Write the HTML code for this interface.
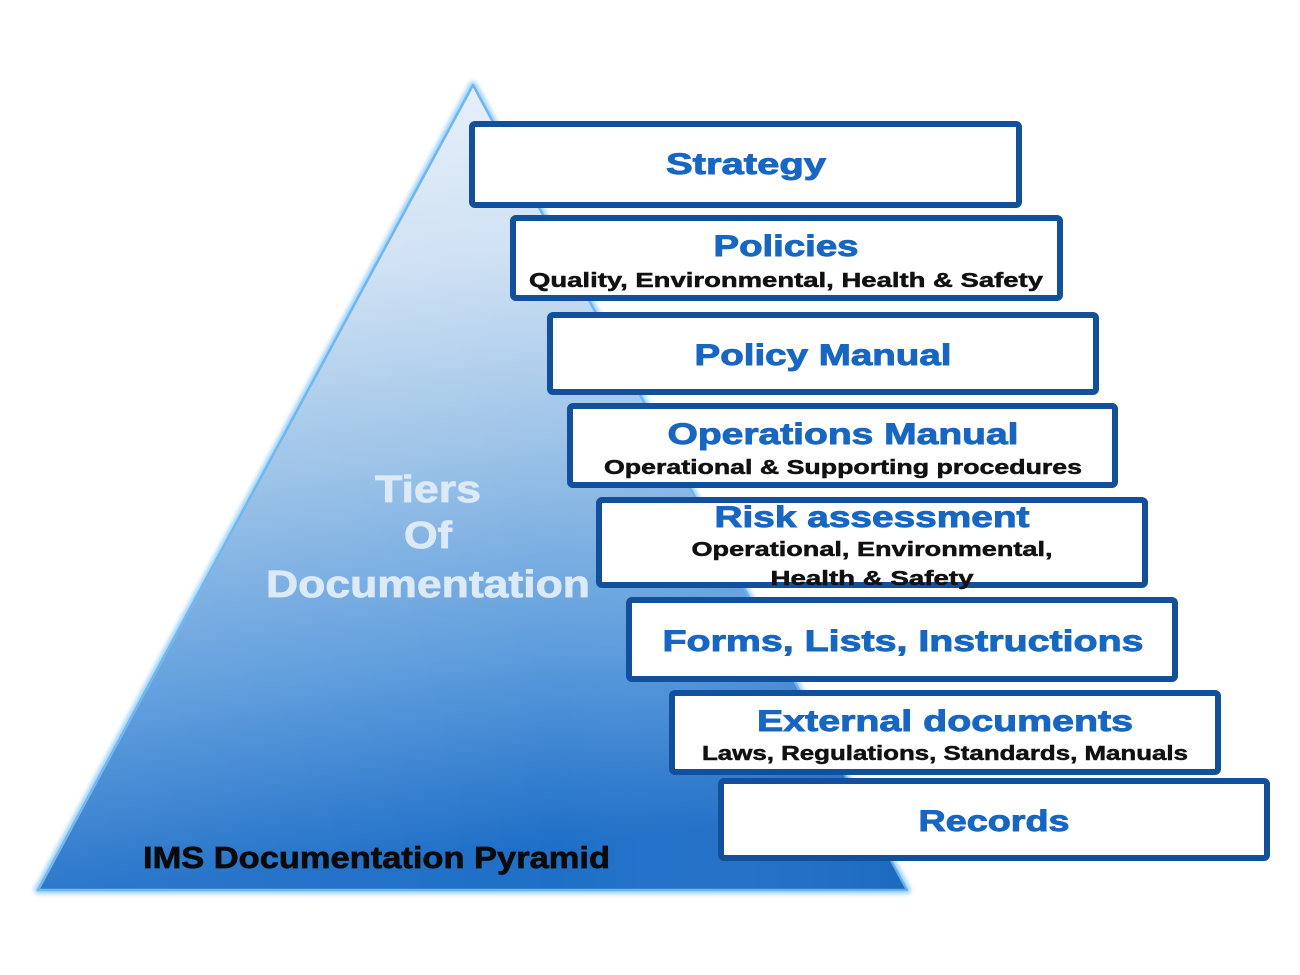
<!DOCTYPE html>
<html>
<head>
<meta charset="utf-8">
<style>
  html, body { margin: 0; padding: 0; background: #ffffff; }
  svg { display: block; }
  .t { font-family: "Liberation Sans", Arial, sans-serif; font-weight: bold; }
</style>
</head>
<body>
<svg width="1300" height="975" viewBox="0 0 1300 975" xmlns="http://www.w3.org/2000/svg">
  <defs>
    <linearGradient id="pg" x1="0" y1="85" x2="80" y2="890" gradientUnits="userSpaceOnUse">
      <stop offset="0" stop-color="#ecf3fb"/>
      <stop offset="0.27" stop-color="#cfe1f4"/>
      <stop offset="0.5" stop-color="#9ec4e8"/>
      <stop offset="0.76" stop-color="#5e9ddd"/>
      <stop offset="1" stop-color="#1f6fc8"/>
    </linearGradient>
    <linearGradient id="pgh" x1="38" y1="0" x2="907" y2="0" gradientUnits="userSpaceOnUse">
      <stop offset="0" stop-color="#ffffff" stop-opacity="0.06"/>
      <stop offset="0.6" stop-color="#ffffff" stop-opacity="0"/>
      <stop offset="1" stop-color="#0a3f8f" stop-opacity="0.12"/>
    </linearGradient>
    <filter id="glow" x="-10%" y="-10%" width="120%" height="120%">
      <feGaussianBlur stdDeviation="2.2"/>
    </filter>
  </defs>

  <!-- Pyramid glow -->
  <polygon points="473,85 907,890 38,890" fill="none" stroke="#9fd2f8" stroke-width="8" stroke-linejoin="round" filter="url(#glow)"/>
  <!-- Pyramid body -->
  <polygon points="473,85 907,890 38,890" fill="url(#pg)" stroke="#6db6ef" stroke-width="2.5" stroke-linejoin="round"/>
  <polygon points="473,85 907,890 38,890" fill="url(#pgh)"/>

  <!-- Tiers of documentation -->
  <g class="t" text-anchor="middle" fill="#dceaf7" stroke="#dceaf7" stroke-width="0.8">
    <text x="428" y="502" font-size="38" textLength="106" lengthAdjust="spacingAndGlyphs">Tiers</text>
    <text x="428" y="548" font-size="38" textLength="48" lengthAdjust="spacingAndGlyphs">Of</text>
    <text x="428" y="597" font-size="38" textLength="324" lengthAdjust="spacingAndGlyphs">Documentation</text>
  </g>

  <!-- IMS Documentation Pyramid -->
  <text class="t" x="143" y="868" font-size="31" fill="#0a0a0a" stroke="#0a0a0a" stroke-width="0.7" textLength="467" lengthAdjust="spacingAndGlyphs">IMS Documentation Pyramid</text>

  <!-- Boxes -->
  <g fill="#ffffff" stroke="#12509c" stroke-width="6">
    <rect x="472" y="124" width="547" height="81" rx="3"/>
    <rect x="513" y="218" width="547" height="80" rx="3"/>
    <rect x="550" y="315" width="546" height="77" rx="3"/>
    <rect x="570" y="406" width="545" height="79" rx="3"/>
    <rect x="599" y="500" width="546" height="85" rx="3"/>
    <rect x="629" y="600" width="546" height="79" rx="3"/>
    <rect x="672" y="693" width="546" height="79" rx="3"/>
    <rect x="721" y="781" width="546" height="77" rx="3"/>
  </g>

  <!-- Box titles -->
  <g class="t" text-anchor="middle" font-size="30" fill="#1766c2" stroke="#1766c2" stroke-width="0.9">
    <text x="746" y="174" textLength="160" lengthAdjust="spacingAndGlyphs">Strategy</text>
    <text x="786" y="256" textLength="145" lengthAdjust="spacingAndGlyphs">Policies</text>
    <text x="823" y="365" textLength="257" lengthAdjust="spacingAndGlyphs">Policy Manual</text>
    <text x="843" y="444" textLength="351" lengthAdjust="spacingAndGlyphs">Operations Manual</text>
    <text x="872" y="527" textLength="315" lengthAdjust="spacingAndGlyphs">Risk assessment</text>
    <text x="903" y="651" textLength="481" lengthAdjust="spacingAndGlyphs">Forms, Lists, Instructions</text>
    <text x="945" y="731" textLength="376" lengthAdjust="spacingAndGlyphs">External documents</text>
    <text x="994" y="831" textLength="151" lengthAdjust="spacingAndGlyphs">Records</text>
  </g>

  <!-- Box subtitles -->
  <g class="t" text-anchor="middle" font-size="20" fill="#111111" stroke="#111111" stroke-width="0.5">
    <text x="786" y="287" textLength="514" lengthAdjust="spacingAndGlyphs">Quality, Environmental, Health &amp; Safety</text>
    <text x="843" y="474" textLength="478" lengthAdjust="spacingAndGlyphs">Operational &amp; Supporting procedures</text>
    <text x="872" y="556" textLength="361" lengthAdjust="spacingAndGlyphs">Operational, Environmental,</text>
    <text x="872" y="585" textLength="203" lengthAdjust="spacingAndGlyphs">Health &amp; Safety</text>
    <text x="945" y="760" textLength="486" lengthAdjust="spacingAndGlyphs">Laws, Regulations, Standards, Manuals</text>
  </g>
</svg>
</body>
</html>
